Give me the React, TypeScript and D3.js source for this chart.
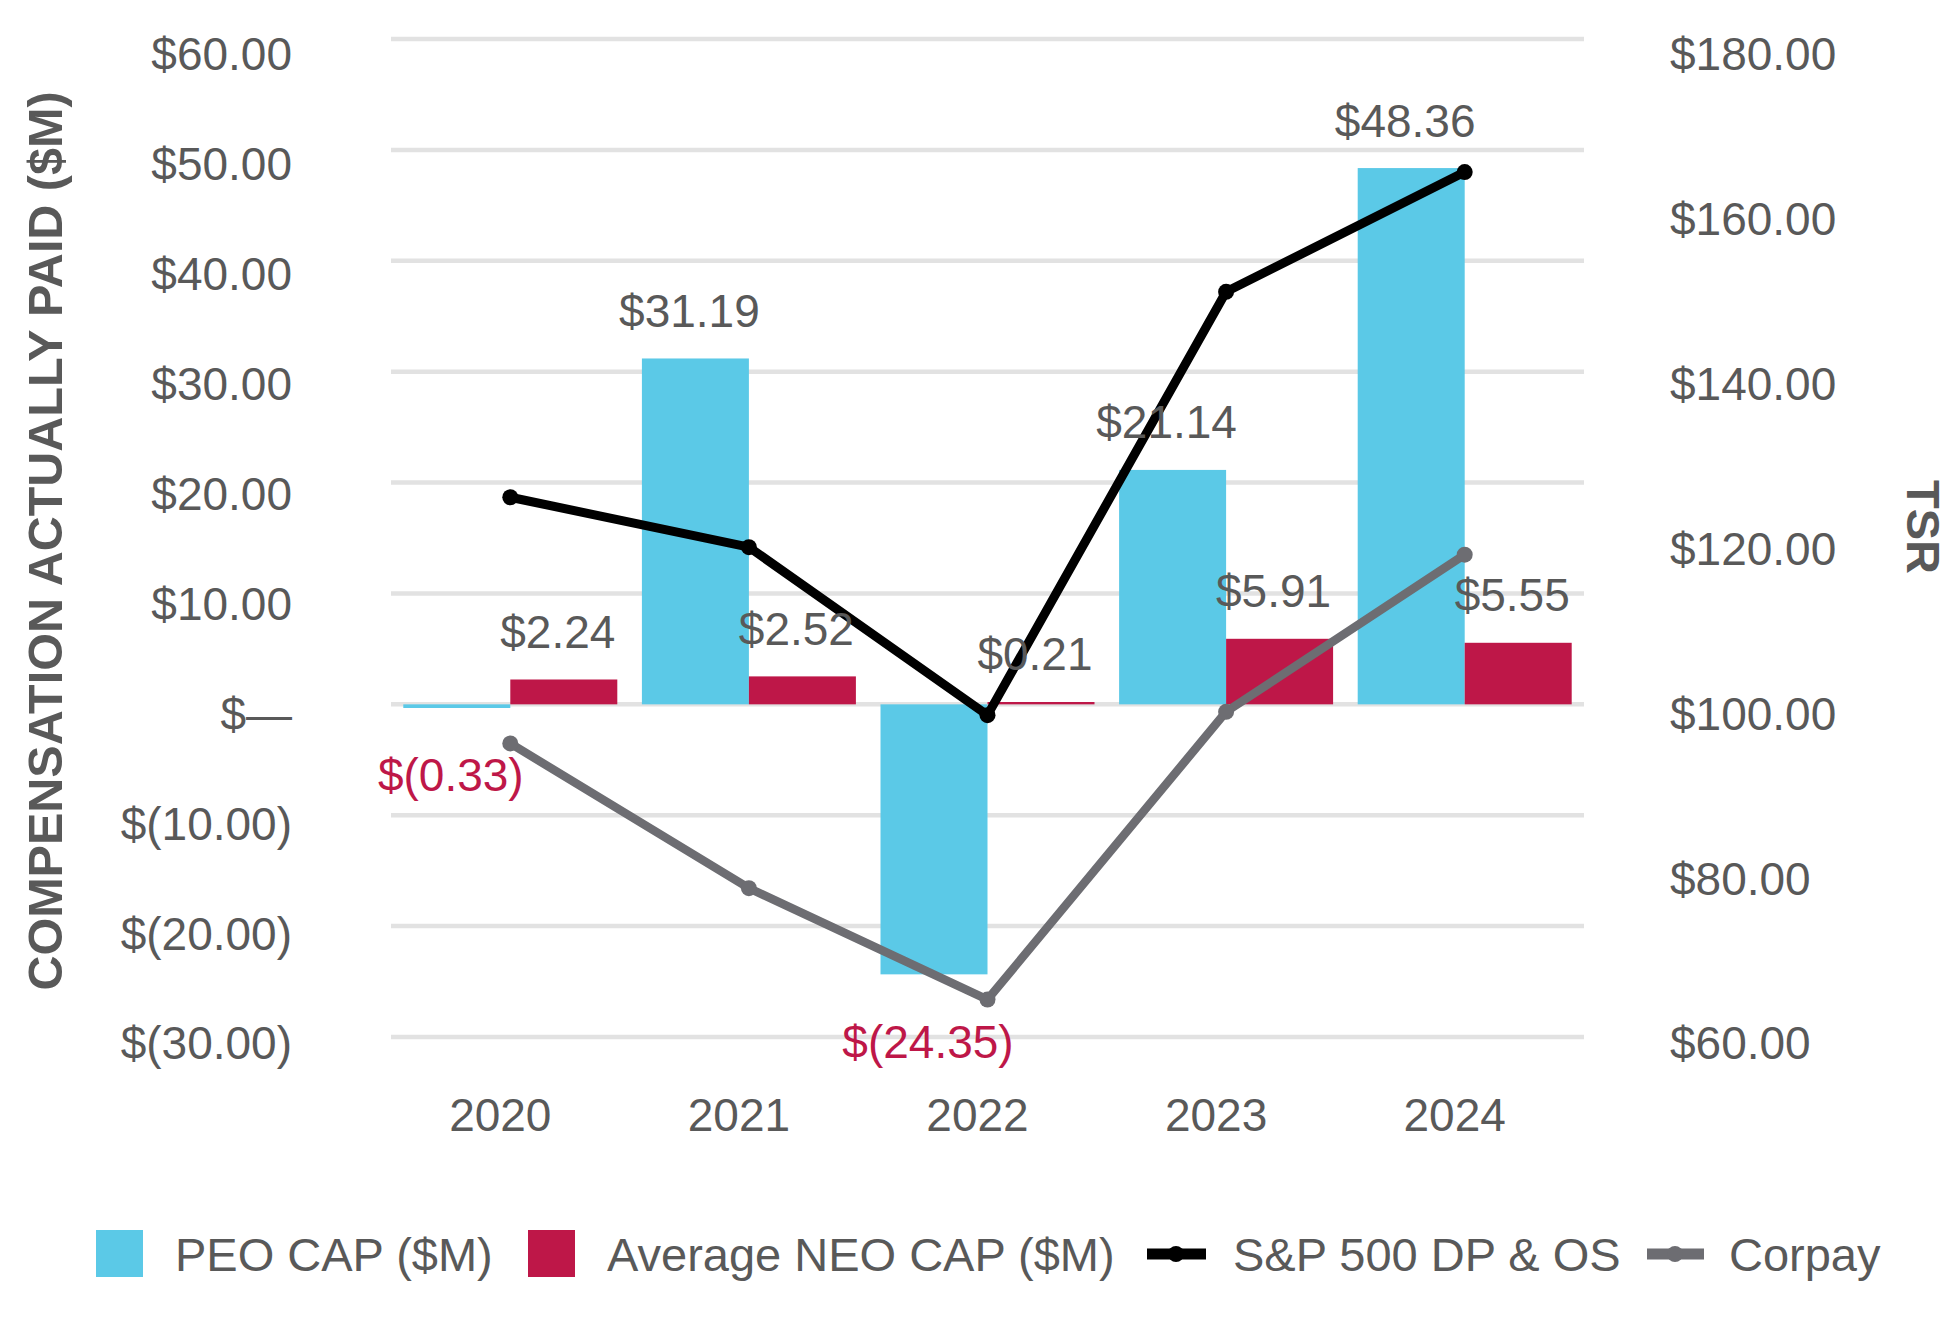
import React from "react";
import * as d3 from "d3";

const years = ["2020", "2021", "2022", "2023", "2024"];
const peoCap = [-0.33, 31.19, -24.35, 21.14, 48.36];
const neoCap = [2.24, 2.52, 0.21, 5.91, 5.55];
const spTsr = [124.9, 118.9, 98.7, 149.6, 164.0];
const corpayTsr = [95.3, 77.9, 64.5, 99.1, 118.0];
const leftTicks = [-30, -20, -10, 0, 10, 20, 30, 40, 50, 60];
const rightTicks = [60, 80, 100, 120, 140, 160, 180];
const seriesNames = ["PEO CAP ($M)", "Average NEO CAP ($M)", "S&P 500 DP & OS", "Corpay"];

const W = 1956;
const H = 1320;
const FONT = "'Liberation Sans', Arial, sans-serif";
const TEXT = "#595959";
const GRID = "#E2E2E2";
const C_PEO = "#5BC9E7";
const C_NEO = "#BE1748";
const C_SP = "#000000";
const C_CORPAY = "#6D6D72";

const fmtTick = (v: number) => (v === 0 ? "$\u2014" : v < 0 ? `$(${Math.abs(v).toFixed(2)})` : `$${v.toFixed(2)}`);
const fmtVal = (v: number) => (v < 0 ? `$(${Math.abs(v).toFixed(2)})` : `$${v.toFixed(2)}`);

export default function App() {
  const x = d3.scaleBand<string>().domain(years).range([391, 1584]).padding(0);
  const xs = d3
    .scaleBand<string>()
    .domain(["peo", "neo"])
    .range([0, x.bandwidth()])
    .paddingInner(0)
    .paddingOuter(0.115);
  const yL = d3.scaleLinear().domain([-30, 60]).range([1037, 39]);
  const yR = d3.scaleLinear().domain([60, 180]).range([1037, 39]);
  // tick label placement (labels sit slightly below their gridlines)
  const yLabL = d3.scaleLinear().domain([-30, 60]).range([1043, 53.5]);
  const yLabR = d3.scaleLinear().domain([60, 180]).range([1043, 53.5]);
  const fs = 46;
  const cy = (c: number, f = fs) => c + 0.358 * f; // baseline from digit center

  const cx = (yr: string) => (x(yr) as number) + x.bandwidth() / 2;
  const line = d3
    .line<number>()
    .x((_, i) => cx(years[i]))
    .y((d) => yR(d));

  const bars = [
    { key: "peo", vals: peoCap, color: C_PEO },
    { key: "neo", vals: neoCap, color: C_NEO },
  ];

  return (
    <svg
      width={W}
      height={H}
      viewBox={`0 0 ${W} ${H}`}
      style={{ position: "absolute", left: 0, top: 0, background: "#fff" }}
      fontFamily={FONT}
    >
      <rect x={0} y={0} width={W} height={H} fill="#fff" />
      {/* gridlines */}
      {leftTicks.map((t) => (
        <line key={t} x1={391} x2={1584} y1={yL(t)} y2={yL(t)} stroke={GRID} strokeWidth={4.5} />
      ))}
      {/* left tick labels */}
      {leftTicks.map((t) => (
        <text key={t} x={292} y={cy(yLabL(t))} textAnchor="end" fontSize={fs} fill={TEXT}>
          {fmtTick(t)}
        </text>
      ))}
      {/* right tick labels */}
      {rightTicks.map((t) => (
        <text key={t} x={1670} y={cy(yLabR(t))} textAnchor="start" fontSize={fs} fill={TEXT}>
          {`$${t.toFixed(2)}`}
        </text>
      ))}
      {/* bars */}
      {bars.map((b) =>
        b.vals.map((v, i) => {
          const bx = (x(years[i]) as number) + (xs(b.key) as number);
          const y0 = yL(0);
          const y1 = yL(v);
          return (
            <rect
              key={b.key + i}
              x={bx}
              y={Math.min(y0, y1)}
              width={xs.bandwidth()}
              height={Math.max(Math.abs(y1 - y0), 1)}
              fill={b.color}
            />
          );
        })
      )}
      {/* lines */}
      <path d={line(spTsr) || ""} fill="none" stroke={C_SP} strokeWidth={9} strokeLinejoin="round" />
      {spTsr.map((v, i) => (
        <circle key={"sp" + i} cx={cx(years[i])} cy={yR(v)} r={8} fill={C_SP} />
      ))}
      <path d={line(corpayTsr) || ""} fill="none" stroke={C_CORPAY} strokeWidth={8.5} strokeLinejoin="round" />
      {corpayTsr.map((v, i) => (
        <circle key={"cp" + i} cx={cx(years[i])} cy={yR(v)} r={8} fill={C_CORPAY} />
      ))}
      {/* data labels */}
      {bars.map((b) =>
        b.vals.map((v, i) => {
          const bx = (x(years[i]) as number) + (xs(b.key) as number) + xs.bandwidth() / 2;
          const neg = v < 0;
          const c = neg ? yL(v) + 67 : yL(v) - 48;
          return (
            <text
              key={"l" + b.key + i}
              x={bx - 6}
              y={cy(c)}
              textAnchor="middle"
              fontSize={fs}
              fill={neg ? C_NEO : TEXT}
            >
              {fmtVal(v)}
            </text>
          );
        })
      )}
      {/* x labels */}
      {years.map((yr) => (
        <text key={yr} x={cx(yr) - 10} y={cy(1115)} textAnchor="middle" fontSize={fs} fill={TEXT}>
          {yr}
        </text>
      ))}
      {/* axis titles */}
      <text
        transform={`translate(62,541) rotate(-90)`}
        textAnchor="middle"
        fontSize={48.5}
        fontWeight="bold"
        fill={TEXT}
      >
        COMPENSATION ACTUALLY PAID ($M)
      </text>
      <text
        transform={`translate(1907,527) rotate(90)`}
        textAnchor="middle"
        fontSize={47}
        fontWeight="bold"
        fill={TEXT}
      >
        TSR
      </text>
      {/* legend */}
      <g fontSize={47} fill={TEXT}>
        <rect x={96} y={1230} width={47} height={47} fill={C_PEO} />
        <text x={175} y={cy(1254, 47)}>{seriesNames[0]}</text>
        <rect x={528} y={1230} width={47} height={47} fill={C_NEO} />
        <text x={607} y={cy(1254, 47)}>{seriesNames[1]}</text>
        <line x1={1147} x2={1206} y1={1254} y2={1254} stroke={C_SP} strokeWidth={11} />
        <circle cx={1176} cy={1254} r={8} fill={C_SP} />
        <text x={1233} y={cy(1254, 47)}>{seriesNames[2]}</text>
        <line x1={1647} x2={1704} y1={1254} y2={1254} stroke={C_CORPAY} strokeWidth={11} />
        <circle cx={1675} cy={1254} r={8} fill={C_CORPAY} />
        <text x={1729} y={cy(1254, 47)}>{seriesNames[3]}</text>
      </g>
    </svg>
  );
}
